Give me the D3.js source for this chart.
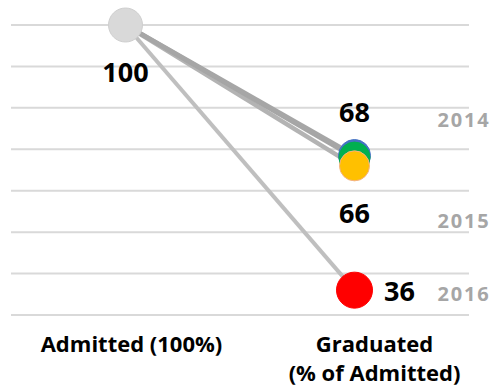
<!DOCTYPE html>
<html>
<head>
<meta charset="utf-8">
<script src="https://cdnjs.cloudflare.com/ajax/libs/d3/7.8.5/d3.min.js"></script>
<style>
	body { margin: 0; background: #fff; }
	text { font-family: 'Open Sans', sans-serif; font-weight: bold; }
</style>
</head>
<body>
<div id="svg-container"></div>
<script>
var CONFIGSVG = { width: 501, height: 389 };

// data
var stages = ['Admitted (100%)', 'Graduated'];
var stageLines = [['Admitted (100%)'], ['Graduated', '(% of Admitted)']];
var admittedValue = 100;
var gradValues = [68.5, 68, 66, 36];
var seriesColors = ['#4472c4', '#00b050', '#ffc000', '#ff0000'];
var seriesStrokes = ['#4472c4', '#00b050', '#f4b183', '#ff0000'];
var lineColors = ['#a6a6a6', '#a6a6a6', '#b3b3b3', '#bfbfbf'];
var labelValues = [68, 66, 36];
var labelPlaces = ['above', 'below', 'right'];
var yearLabels = ['2014', '2015', '2016'];

var svg = d3
	.select('#svg-container')
	.append('svg')
	.attr('width', CONFIGSVG.width)
	.attr('height', CONFIGSVG.height);

var x = d3.scaleBand().domain(stages).range([11, 469]);
var y = d3.scaleLinear().domain([30, 100]).range([315, 25]);
var cx = (s) => x(s) + x.bandwidth() / 2;

// gridlines
svg
	.append('g')
	.selectAll('line')
	.data(y.ticks(8))
	.join('line')
	.attr('x1', x.range()[0])
	.attr('x2', x.range()[1])
	.attr('y1', (d) => y(d))
	.attr('y2', (d) => y(d))
	.attr('stroke', '#d9d9d9')
	.attr('stroke-width', 2);

// slope lines, drawn from back to front
var order = [3, 2, 1, 0];
svg
	.append('g')
	.selectAll('line')
	.data(order)
	.join('line')
	.attr('x1', cx(stages[0]))
	.attr('y1', y(admittedValue))
	.attr('x2', cx(stages[1]))
	.attr('y2', (i) => y(gradValues[i]))
	.attr('stroke', (i) => lineColors[i])
	.attr('stroke-width', (i) => (i == 3 ? 4 : 4.5));

// end points
svg
	.append('g')
	.selectAll('circle')
	.data(gradValues)
	.join('circle')
	.attr('cx', cx(stages[1]))
	.attr('cy', (d) => y(d))
	.attr('r', (d, i) => [16, 15.5, 15, 18][i])
	.attr('fill', (d, i) => seriesColors[i])
	.attr('stroke', (d, i) => seriesStrokes[i])
	.attr('stroke-width', 1);

svg
	.append('circle')
	.attr('cx', cx(stages[0]))
	.attr('cy', y(admittedValue))
	.attr('r', 17)
	.attr('fill', '#d9d9d9')
	.attr('stroke', '#cfcfcf')
	.attr('stroke-width', 1);

// value labels
var placeOffset = { above: [0, -36], below: [0, 57], right: [45, 11] };
svg
	.append('text')
	.attr('x', cx(stages[0]))
	.attr('y', y(admittedValue) + placeOffset.below[1])
	.attr('text-anchor', 'middle')
	.style('font-size', '27px')
	.attr('fill', '#000')
	.text(admittedValue);

svg
	.append('g')
	.selectAll('text')
	.data(labelValues)
	.join('text')
	.attr('x', (d, i) => cx(stages[1]) + placeOffset[labelPlaces[i]][0])
	.attr('y', (d, i) => y(d) + placeOffset[labelPlaces[i]][1])
	.attr('text-anchor', 'middle')
	.style('font-size', '27px')
	.attr('fill', '#000')
	.text((d) => d);

// year labels sit on the same rows as the value labels
svg
	.append('g')
	.selectAll('text')
	.data(yearLabels)
	.join('text')
	.attr('x', cx(stages[1]) + 83)
	.attr('y', (d, i) => y(labelValues[i]) + placeOffset[labelPlaces[i]][1] + (i == 2 ? 0 : 5))
	.style('font-size', '20px')
	.style('letter-spacing', '1.8px')
	.attr('fill', '#a6a6a6')
	.text((d) => d);

// category labels
var catShift = [6, 20];
stageLines.forEach((lines, i) => {
	svg
		.append('text')
		.attr('x', cx(stages[i]) + catShift[i])
		.attr('y', 352)
		.attr('text-anchor', 'middle')
		.style('font-size', '22px')
		.attr('fill', '#000')
		.selectAll('tspan')
		.data(lines)
		.join('tspan')
		.attr('x', cx(stages[i]) + catShift[i])
		.attr('dy', (d, j) => (j == 0 ? 0 : 29))
		.text((d) => d);
});
</script>
</body>
</html>
